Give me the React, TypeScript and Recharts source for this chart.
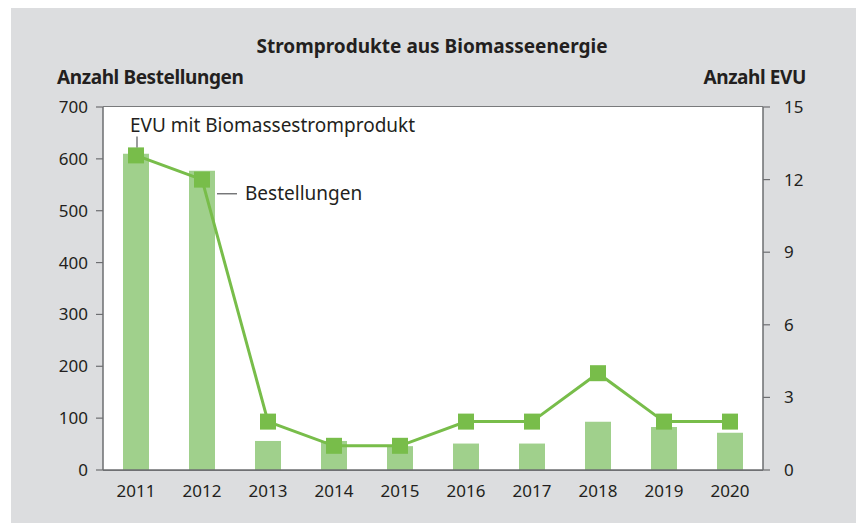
import React from "react";
import { Bar, CartesianGrid, ComposedChart, Line, XAxis, YAxis } from "recharts";

const YEARS = ["2011", "2012", "2013", "2014", "2015", "2016", "2017", "2018", "2019", "2020"];
const ORDERS = [610, 577, 56, 56, 46, 51, 51, 93, 83, 72];
const EVU = [13, 12, 2, 1, 1, 2, 2, 4, 2, 2];
const LEFT_TICKS = [0, 100, 200, 300, 400, 500, 600, 700];
const RIGHT_TICKS = [0, 3, 6, 9, 12, 15];

const FONT = "'Noto Sans', 'Open Sans', sans-serif";
const TEXT = "#231f20";
const AXIS = "#6d6e71";
const GRID = "#58595b";
const BAR = "#a0d08c";
const LINE = "#78bd4a";

const data = YEARS.map((year, i) => ({ year, orders: ORDERS[i], evu: EVU[i] }));

const tickStyle = { fill: TEXT, fontSize: 17, fontFamily: FONT };

const headStyle = {
  position: "absolute" as const,
  fontFamily: FONT,
  fontWeight: 700,
  fontSize: 19,
  letterSpacing: -0.4,
  color: TEXT,
  lineHeight: "24px",
};

function SquareDot(props: any) {
  const { cx, cy } = props;
  if (cx == null || cy == null) return null;
  return <rect x={cx - 8} y={cy - 8} width={16} height={16} fill={LINE} />;
}

// callout for the first line point
function EvuLabel(props: any) {
  const { x, y, index } = props;
  if (index !== 0) return null;
  return (
    <g>
      <line x1={x + 1} x2={x + 1} y1={y - 8} y2={y - 19} stroke={GRID} strokeWidth={1.2} />
      <text x={x - 6} y={y - 23} fill={TEXT} fontSize={19} fontFamily={FONT}>
        EVU mit Biomassestromprodukt
      </text>
    </g>
  );
}

// callout next to the 2012 bar
function OrdersLabel(props: any) {
  const { x, y, width, index } = props;
  if (index !== 1) return null;
  const lx = x + width + 2;
  const ly = y + 23;
  return (
    <g>
      <line x1={lx} x2={lx + 20} y1={ly} y2={ly} stroke={GRID} strokeWidth={1.2} />
      <text x={lx + 28} y={ly + 6} fill={TEXT} fontSize={19} fontFamily={FONT}>
        Bestellungen
      </text>
    </g>
  );
}

export default function App() {
  return (
    <div style={{ position: "absolute", left: 0, top: 0, width: 856, height: 523, background: "#fff" }}>
      <div
        style={{
          position: "absolute",
          left: 11,
          top: 8,
          width: 845,
          height: 515,
          background: "#dcdddf",
        }}
      />
      <div style={{ ...headStyle, left: 0, width: 864, top: 34, textAlign: "center", letterSpacing: 0 }}>
        Stromprodukte aus Biomasseenergie
      </div>
      <div style={{ ...headStyle, left: 57, top: 65 }}>Anzahl Bestellungen</div>
      <div style={{ ...headStyle, right: 856 - 806, top: 65 }}>Anzahl EVU</div>
      <div style={{ position: "absolute", left: 0, top: 0 }}>
        <ComposedChart
          width={856}
          height={523}
          data={data}
          margin={{ top: 107, right: 0, bottom: 0, left: 0 }}
          barCategoryGap={0}
        >
          <rect x={103} y={107} width={660} height={363} fill="#fff" />
          <CartesianGrid yAxisId="left" vertical={false} stroke={GRID} strokeWidth={1.5} />
          <XAxis
            dataKey="year"
            height={53}
            tickLine={false}
            tickSize={6}
            tickMargin={9}
            axisLine={{ stroke: AXIS, strokeWidth: 1.5 }}
            tick={tickStyle}
            interval={0}
          />
          <YAxis
            yAxisId="left"
            width={103}
            domain={[0, 700]}
            ticks={LEFT_TICKS}
            tickSize={7}
            tickMargin={8}
            tickLine={{ stroke: AXIS, strokeWidth: 1.2 }}
            axisLine={{ stroke: AXIS, strokeWidth: 1.5 }}
            tick={tickStyle}
          />
          <YAxis
            yAxisId="right"
            orientation="right"
            width={93}
            domain={[0, 15]}
            ticks={RIGHT_TICKS}
            tickSize={7}
            tickMargin={14}
            tickLine={{ stroke: AXIS, strokeWidth: 1.2 }}
            axisLine={{ stroke: AXIS, strokeWidth: 1.5 }}
            tick={{ ...tickStyle, textAnchor: "start" }}
          />
          <Bar
            yAxisId="left"
            dataKey="orders"
            fill={BAR}
            barSize={26}
            label={<OrdersLabel />}
            isAnimationActive={false}
          />
          <Line
            yAxisId="right"
            dataKey="evu"
            type="linear"
            stroke={LINE}
            strokeWidth={3}
            dot={<SquareDot />}
            activeDot={false}
            label={<EvuLabel />}
            isAnimationActive={false}
          />
        </ComposedChart>
      </div>
    </div>
  );
}
